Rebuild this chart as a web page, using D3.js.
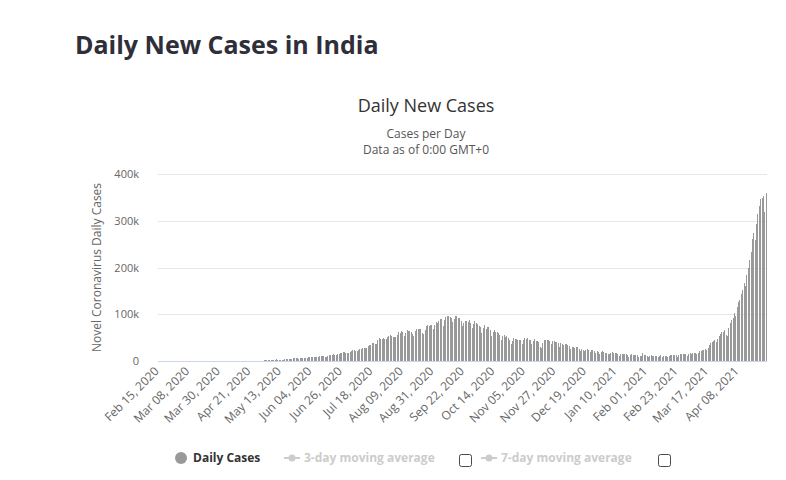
<!DOCTYPE html>
<html lang="en">
<head>
    <meta charset="UTF-8">
    <title>Daily New Cases in India</title>
    <script src="https://d3js.org/d3.v7.min.js"></script>
    <style>
        body { margin: 0; background: #fff; }
        svg text { font-family: "Open Sans", "DejaVu Sans", sans-serif; }
    </style>
</head>
<body>
    <div id="chart"></div>
    <script>
        // daily new cases, Feb 15 2020 .. Apr 28 2021
        var feb2020 = [0,0,0,0,0,0,0,0,0,0,0,0,0,0,0];
        var mar2020 = [0,2,1,22,2,1,3,5,9,15,8,10,9,18,8,19,11,22,22,61,84,88,85,100,75,88,194,106,106,227,146];
        var apr2020 = [601,545,478,578,517,704,508,485,591,896,768,918,905,1463,1076,1007,1296,1092,1893,1454,1243,1283,1607,1572,1429,1975,1543,1594,1902,1705];
        var may2020 = [2396,2564,2952,3656,2971,3587,3364,3344,3113,4353,3607,3524,3763,3942,3787,4864,5050,4630,6154,5720,6088,6654,6767,6977,6535,6387,7466,7254,8105,7964,8392];
        var jun2020 = [8171,8909,9304,9851,9887,9971,9983,9987,9985,10956,11458,11929,11502,10667,10032,11090,12881,13586,14516,15413,14821,14933,15968,16922,17296,18552,19906,19459,18522,18653];
        var jul2020 = [19148,20903,22771,24850,24248,22252,22752,24879,26506,27114,28637,28701,28498,29429,32695,34956,34884,38902,40425,37148,37724,45720,49310,48916,48661,49931,47703,48513,52123,55078,57118];
        var aug2020 = [54735,52972,52050,52509,56282,62538,61537,64399,62064,53601,60963,66999,64553,65002,63490,57981,55079,64531,69652,68898,69878,69874,61408,59696,67151,75760,77266,76472,78761,78512,69921];
        var sep2020 = [78357,83883,83341,86432,90632,90802,75809,89706,95735,96551,97570,94372,92071,83809,90123,97894,96424,93337,92605,86961,75083,83347,86508,86052,85362,88600,82170,70589,80472,86821];
        var oct2020 = [81484,79476,75829,74442,61267,72049,78524,70496,73272,74383,66732,55342,63509,67708,63371,62212,61871,55722,46790,54044,55839,53370,54366,50129,45149,36469,43893,49881,48648,48268,46963];
        var nov2020 = [46964,45231,38310,46253,50210,47638,50357,45674,45903,38073,44281,47905,44879,44878,41100,30548,29163,38617,45576,45882,46232,45209,44059,37975,44376,43082,41322,41810,39000,31118];
        var dec2020 = [38772,36604,35551,36595,36652,36011,32981,26567,32080,31522,29398,30006,30254,27071,22065,26382,24010,22890,25153,26624,24337,19556,23950,24712,23067,18732,22273,20021,16432,20550,21822];
        var jan2021 = [20035,19078,18177,16505,16375,18088,20346,18139,18222,18645,16311,12584,15968,16946,15590,15158,15144,13788,10064,13823,15223,14545,14256,14849,13203,9102,12689,11666,18855,13083,13052];
        var feb2021 = [11427,8635,11039,12899,12408,12059,11713,12059,9110,11067,12923,9309,12143,11649,12194,9121,11610,12881,13193,13993,14264,14199,10584,13742,16738,16577,16488,16752];
        var mar2021 = [15510,12286,14989,17407,16838,18327,18711,18599,15388,17921,22854,23285,24882,25320,26291,24492,28903,35871,39726,40953,43846,46951,40715,47262,53476,59118,62258,62714,68020,56211,53480];
        var apr2021 = [72330,81466,89129,93249,103558,96982,115736,126789,131968,145384,152879,168912,161736,184372,200739,217353,234692,261500,273810,259170,295041,314835,332730,346786,349691,352991,319435,360960];

        var dailyCases = [].concat(feb2020, mar2020, apr2020, may2020, jun2020, jul2020, aug2020,
            sep2020, oct2020, nov2020, dec2020, jan2021, feb2021, mar2021, apr2021);

        // a label every 22 days
        var tickEvery = 22;
        var tickLabels = ["Feb 15, 2020", "Mar 08, 2020", "Mar 30, 2020", "Apr 21, 2020", "May 13, 2020",
            "Jun 04, 2020", "Jun 26, 2020", "Jul 18, 2020", "Aug 09, 2020", "Aug 31, 2020",
            "Sep 22, 2020", "Oct 14, 2020", "Nov 05, 2020", "Nov 27, 2020", "Dec 19, 2020",
            "Jan 10, 2021", "Feb 01, 2021", "Feb 23, 2021", "Mar 17, 2021", "Apr 08, 2021"];
        var yTicks = [0, 100000, 200000, 300000, 400000];

        var W = 786, H = 480;
        var plot = { left: 158, right: 767, top: 174, bottom: 361 };

        var svg = d3.select("#chart").append("svg")
            .attr("width", W)
            .attr("height", H);

        // page heading
        svg.append("text")
            .attr("x", 75)
            .attr("y", 54)
            .style("font-size", "25px")
            .style("font-weight", "700")
            .style("fill", "#2f2f3a")
            .text("Daily New Cases in India");

        // chart titles
        svg.append("text")
            .attr("x", 426)
            .attr("y", 112)
            .attr("text-anchor", "middle")
            .style("font-size", "18px")
            .style("fill", "#333")
            .text("Daily New Cases");
        svg.append("text")
            .attr("x", 426)
            .attr("y", 138)
            .attr("text-anchor", "middle")
            .style("font-size", "12px")
            .style("fill", "#555")
            .text("Cases per Day");
        svg.append("text")
            .attr("x", 426)
            .attr("y", 154)
            .attr("text-anchor", "middle")
            .style("font-size", "12px")
            .style("fill", "#555")
            .text("Data as of 0:00 GMT+0");

        var x = d3.scaleBand()
            .domain(d3.range(dailyCases.length))
            .range([plot.left, plot.right]);

        var y = d3.scaleLinear()
            .domain([0, 400000])
            .range([plot.bottom, plot.top]);

        // grid + y labels
        svg.append("g").selectAll("line")
            .data(yTicks.slice(1))
            .enter().append("line")
            .attr("x1", plot.left)
            .attr("x2", plot.right)
            .attr("y1", function (d) { return Math.round(y(d)) + 0.5; })
            .attr("y2", function (d) { return Math.round(y(d)) + 0.5; })
            .style("stroke", "#e6e6e6");

        svg.append("g").selectAll("text")
            .data(yTicks)
            .enter().append("text")
            .attr("x", 139)
            .attr("y", function (d) { return y(d) + 4; })
            .attr("text-anchor", "end")
            .style("font-size", "11px")
            .style("fill", "#666")
            .text(function (d) { return d === 0 ? "0" : d3.format("d")(d / 1000) + "k"; });

        svg.append("text")
            .attr("transform", "translate(101," + ((plot.top + plot.bottom) / 2) + ") rotate(-90)")
            .attr("text-anchor", "middle")
            .style("font-size", "12px")
            .style("fill", "#666")
            .text("Novel Coronavirus Daily Cases");

        // bars (whole pixels, so very small days vanish like in the source)
        function barH(d) { return Math.floor(plot.bottom - y(d)); }
        svg.append("g").selectAll("rect")
            .data(dailyCases)
            .enter().append("rect")
            .attr("x", function (d, i) { return Math.round(x(i) + x.bandwidth() / 2 - 0.5); })
            .attr("width", 1)
            .attr("y", function (d) { return plot.bottom - barH(d); })
            .attr("height", function (d) { return Math.max(0, barH(d)); })
            .style("fill", "#999");

        // x axis line
        svg.append("line")
            .attr("x1", plot.left)
            .attr("x2", plot.right)
            .attr("y1", plot.bottom + 0.5)
            .attr("y2", plot.bottom + 0.5)
            .style("stroke", "#ccd6eb");

        svg.append("g").selectAll("text")
            .data(tickLabels)
            .enter().append("text")
            .attr("transform", function (d, i) {
                var cx = x(i * tickEvery) + x.bandwidth() / 2;
                return "translate(" + (cx + 1) + ",372) rotate(-45)";
            })
            .attr("text-anchor", "end")
            .style("font-size", "12px")
            .style("fill", "#666")
            .text(function (d) { return d; });

        // legend
        var lg = svg.append("g").attr("transform", "translate(0,458)");
        lg.append("circle").attr("cx", 181).attr("cy", 0).attr("r", 6).style("fill", "#999");
        lg.append("text").attr("x", 193).attr("y", 4)
            .style("font-size", "12px").style("font-weight", "700").style("fill", "#333")
            .text("Daily Cases");

        var faded = [
            { label: "3-day moving average", x: 284, box: 459 },
            { label: "7-day moving average", x: 481, box: 658 }
        ];
        faded.forEach(function (f) {
            lg.append("line").attr("x1", f.x).attr("x2", f.x + 16).attr("y1", 0).attr("y2", 0)
                .style("stroke", "#ccc").style("stroke-width", 2);
            lg.append("circle").attr("cx", f.x + 8).attr("cy", 0).attr("r", 3.5).style("fill", "#ccc");
            lg.append("text").attr("x", f.x + 20).attr("y", 4)
                .style("font-size", "12px").style("font-weight", "700").style("fill", "#ccc")
                .text(f.label);
            lg.append("rect").attr("x", f.box + 0.5).attr("y", -3.5).attr("width", 12).attr("height", 12)
                .attr("rx", 2).style("fill", "#fff").style("stroke", "#4a4a4a");
        });
    </script>
</body>
</html>
